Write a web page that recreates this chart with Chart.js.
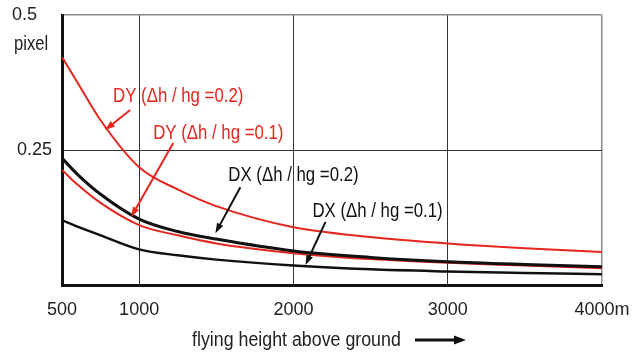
<!DOCTYPE html>
<html>
<head>
<meta charset="utf-8">
<script src="https://cdn.jsdelivr.net/npm/chart.js@4.4.1/dist/chart.umd.min.js"></script>
<style>
  html, body { margin: 0; padding: 0; background: #fff; }
  #contenedor { width: 637px; height: 354px; }
</style>
</head>
<body>
<div id="contenedor"><canvas id="grafico"></canvas></div>
<script>
// Datos (altura de vuelo en m, desplazamiento en pixel)
const alturas = [500, 600, 750, 1000, 1250, 1500, 2000, 2500, 3000, 3500, 4000];
const dyRelacion02 = [0.422, 0.375, 0.305, 0.218, 0.177, 0.146, 0.107, 0.089, 0.077, 0.068, 0.061];
const dxRelacion02 = [0.235, 0.205, 0.168, 0.122, 0.099, 0.085, 0.063, 0.051, 0.043, 0.038, 0.034];
const dyRelacion01 = [0.213, 0.186, 0.152, 0.111, 0.092, 0.077, 0.059, 0.048, 0.041, 0.036, 0.031];
const dxRelacion01 = [0.120, 0.108, 0.092, 0.066, 0.055, 0.047, 0.036, 0.029, 0.025, 0.022, 0.020];

const ticksX = [500, 1000, 2000, 3000, 4000];
const ticksY = [0, 0.25, 0.5];

const rojo = '#e5261e';
const negro = '#111';
const fuente = "'Liberation Sans', Arial, sans-serif";

// Rótulos con flecha, en coordenadas de datos
const rotulos = [
  { texto: 'DY (Δh / hg =0.2)', color: rojo, x: 831, y: 0.35, desde: [942, 0.324], hasta: [779, 0.287] },
  { texto: 'DY (Δh / hg =0.1)', color: rojo, x: 1091, y: 0.28, desde: [1221, 0.263], hasta: [948, 0.126] },
  { texto: 'DX (Δh / hg =0.2)', color: negro, x: 1578, y: 0.202, desde: [1656, 0.181], hasta: [1494, 0.096] },
  { texto: 'DX (Δh / hg =0.1)', color: negro, x: 2123, y: 0.137, desde: [2208, 0.117], hasta: [2078, 0.037] }
];

const puntos = serie => alturas.map((h, i) => ({ x: h, y: serie[i] }));

// texto algo estrecho, como el original
function textoEstrecho(ctx, texto, x, y, factor) {
  ctx.save();
  ctx.translate(x, y);
  ctx.scale(factor, 1);
  ctx.fillText(texto, 0, 0);
  ctx.restore();
}

function dibujarFlecha(ctx, x1, y1, x2, y2, color, grosor, largo, ancho) {
  const ang = Math.atan2(y2 - y1, x2 - x1);
  ctx.save();
  ctx.strokeStyle = color;
  ctx.fillStyle = color;
  ctx.lineWidth = grosor;
  ctx.beginPath();
  ctx.moveTo(x1, y1);
  ctx.lineTo(x2 - Math.cos(ang) * largo * 0.8, y2 - Math.sin(ang) * largo * 0.8);
  ctx.stroke();
  ctx.beginPath();
  ctx.moveTo(x2, y2);
  ctx.lineTo(x2 - Math.cos(ang) * largo + Math.sin(ang) * ancho / 2, y2 - Math.sin(ang) * largo - Math.cos(ang) * ancho / 2);
  ctx.lineTo(x2 - Math.cos(ang) * largo - Math.sin(ang) * ancho / 2, y2 - Math.sin(ang) * largo + Math.cos(ang) * ancho / 2);
  ctx.closePath();
  ctx.fill();
  ctx.restore();
}

const pluginRotulos = {
  id: 'rotulos',
  afterDraw(chart) {
    const { ctx, scales: { x, y } } = chart;
    ctx.save();
    ctx.font = `20px ${fuente}`;
    ctx.textBaseline = 'middle';
    ctx.textAlign = 'left';

    rotulos.forEach(r => {
      ctx.fillStyle = r.color;
      textoEstrecho(ctx, r.texto, x.getPixelForValue(r.x), y.getPixelForValue(r.y), 0.84);
      dibujarFlecha(ctx,
        x.getPixelForValue(r.desde[0]), y.getPixelForValue(r.desde[1]),
        x.getPixelForValue(r.hasta[0]), y.getPixelForValue(r.hasta[1]),
        r.color, 2, 10, 7);
    });

    // unidad del eje y
    ctx.fillStyle = '#222';
    textoEstrecho(ctx, 'pixel', 14, y.getPixelForValue(0.5) + 29, 0.83);

    // título del eje x con flecha
    const yTitulo = chart.height - 14;
    textoEstrecho(ctx, 'flying height above ground', 192, yTitulo, 0.89);
    dibujarFlecha(ctx, 415, yTitulo, 466, yTitulo, negro, 3, 12, 9);
    ctx.restore();
  }
};

new Chart(document.getElementById('grafico'), {
  type: 'line',
  data: {
    datasets: [
      { label: 'DY (Δh / hg =0.2)', data: puntos(dyRelacion02), borderColor: rojo, borderWidth: 2 },
      { label: 'DX (Δh / hg =0.2)', data: puntos(dxRelacion02), borderColor: negro, borderWidth: 3 },
      { label: 'DY (Δh / hg =0.1)', data: puntos(dyRelacion01), borderColor: rojo, borderWidth: 2 },
      { label: 'DX (Δh / hg =0.1)', data: puntos(dxRelacion01), borderColor: negro, borderWidth: 2.5 }
    ]
  },
  options: {
    responsive: true,
    maintainAspectRatio: false,
    animation: false,
    layout: { padding: { top: 15, right: 35, left: 0, bottom: 0 } },
    elements: {
      point: { radius: 0 },
      line: { tension: 0.4, cubicInterpolationMode: 'monotone', fill: false }
    },
    plugins: {
      legend: { display: false },
      tooltip: { enabled: false }
    },
    scales: {
      x: {
        type: 'linear',
        min: 500,
        max: 4000,
        afterBuildTicks: scale => { scale.ticks = ticksX.map(v => ({ value: v })); },
        afterFit: scale => {
          scale.height = 69;
          scale.paddingLeft = 0;
          scale.paddingRight = 0;
        },
        border: { display: true, color: negro, width: 3 },
        grid: {
          drawTicks: false,
          color: c => c.tick && c.tick.value === 4000 ? '#8c8c8c' : '#333',
          lineWidth: c => c.tick && c.tick.value === 4000 ? 1.5 : 1
        },
        ticks: {
          padding: 14,
          color: '#222',
          font: { family: fuente, size: 18 },
          maxRotation: 0,
          callback: v => v === 4000 ? '4000m' : String(v)
        }
      },
      y: {
        min: 0,
        max: 0.5,
        afterBuildTicks: scale => { scale.ticks = ticksY.map(v => ({ value: v })); },
        afterFit: scale => {
          scale.width = 62;
          scale.paddingTop = 0;
          scale.paddingBottom = 0;
        },
        border: { display: true, color: negro, width: 3 },
        grid: {
          drawTicks: false,
          color: c => c.tick && c.tick.value === 0.5 ? '#8c8c8c' : '#333',
          lineWidth: c => c.tick && c.tick.value === 0.5 ? 1.5 : 1
        },
        ticks: {
          padding: 10,
          color: '#222',
          font: { family: fuente, size: 18 },
          callback: v => v === 0.25 ? '0.25' : v === 0.5 ? '0.5   ' : ''
        }
      }
    }
  },
  plugins: [pluginRotulos]
});
</script>
</body>
</html>
